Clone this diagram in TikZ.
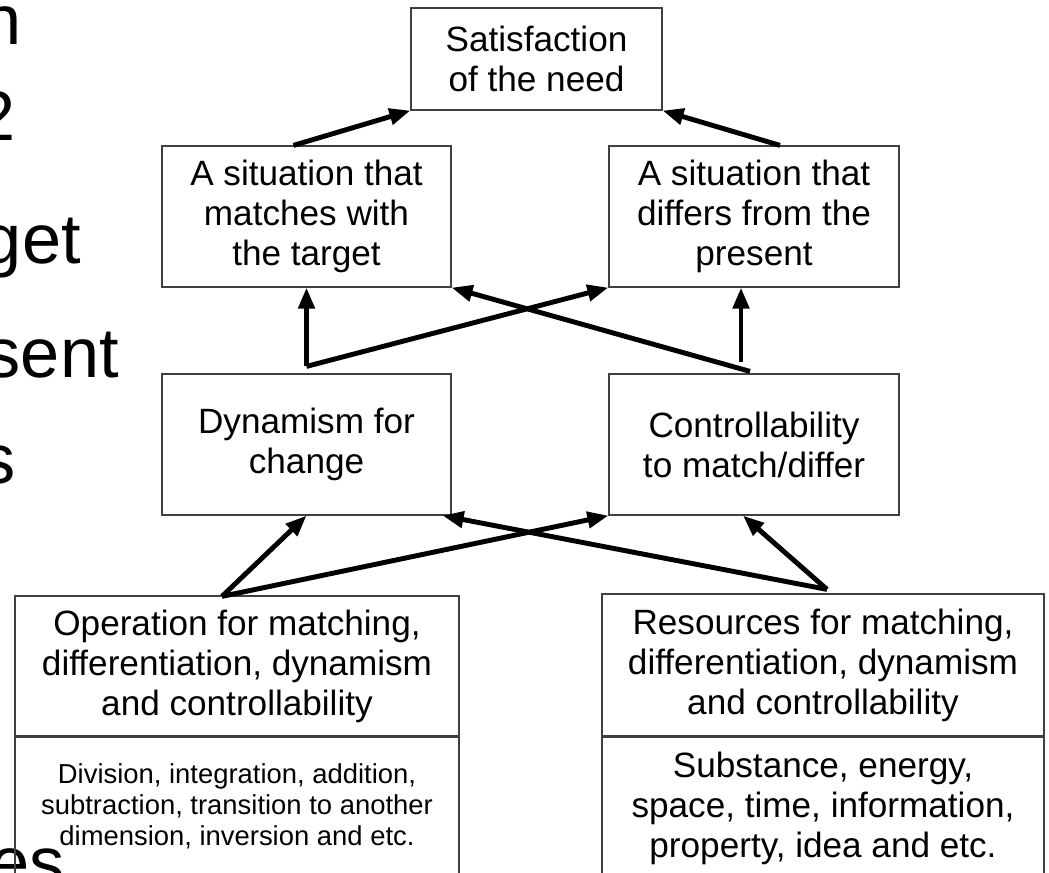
\documentclass[tikz,border=0pt]{standalone}
\usepackage{fontspec}
\setmainfont{Liberation Sans}
\usetikzlibrary{arrows.meta}

\tikzstyle{box}=[draw=black!75, line width=0.7pt, align=center, inner sep=0pt, font=\fontsize{20}{22.8}\selectfont]
\tikzstyle{arrow}=[line width=2.8pt, -{Triangle[length=4.2mm, width=3.2mm]}]
\tikzstyle{slide}=[anchor=base east, inner sep=0pt, font=\fontsize{40}{48}\selectfont]
\tikzstyle{detail}=[anchor=north, inner sep=0pt, align=center]

\begin{document}
\begin{tikzpicture}[x=0.2mm, y=-0.2mm]
      \useasboundingbox (0, 0) rectangle (1049, 873);
      \clip (0, 0) rectangle (1049, 873);

      % slide text behind the chart
      \node[slide] (s1) at (22, 45) {n};
      \node[slide] (s2) at (16, 140) {2};
      \node[slide] (s3) at (81, 263) {get};
      \node[slide] (s4) at (119, 377) {sent};
      \node[slide] (s5) at (16, 483) {s};
      \node[slide] (s6) at (65, 886) {es};

      \node[box, minimum width=5.02cm, minimum height=2.04cm] (need) at (536.5, 59) {Satisfaction\\of the need};
      \node[box, minimum width=5.78cm, minimum height=2.82cm] (match) at (306.5, 216.5) {A situation that\\matches with\\the target};
      \node[box, minimum width=5.8cm, minimum height=2.82cm] (differ) at (754, 216.5) {A situation that\\differs from the\\present};
      \node[box, minimum width=5.78cm, minimum height=2.82cm] (dyn) at (306.5, 444.5) {Dynamism for\\change};
      \node[box, minimum width=5.8cm, minimum height=2.82cm] (ctrl) at (754, 444.5) {Controllability\\to match/differ};
      \node[box, minimum width=8.88cm, minimum height=2.8cm] (oper) at (237, 666) {Operation for matching,\\differentiation, dynamism\\and controllability};
      \node[box, minimum width=8.84cm, minimum height=2.84cm] (res) at (823, 665) {Resources for matching,\\differentiation, dynamism\\and controllability};
      \node[box, minimum width=8.88cm, minimum height=4cm, anchor=north] (operx) at (oper.south) {};
      \node[box, minimum width=8.84cm, minimum height=4cm, anchor=north] (resx) at (res.south) {};
      \node[detail, font=\fontsize{15.6}{17.6}\selectfont] (operdet) at (237, 763) {Division, integration, addition,\\subtraction, transition to another\\dimension, inversion and etc.};
      \node[detail, font=\fontsize{20}{22.8}\selectfont] (resdet) at (823, 752) {Substance, energy,\\space, time, information,\\property, idea and etc.};

      \draw[arrow] ([shift={(-13,0)}]match.north) to (need.south west);
      \draw[arrow] ([shift={(26,0)}]differ.north) to (need.south east);
      \draw[arrow] ([shift={(0,-7)}]dyn.north) to (match.south);
      \draw[arrow] ([shift={(0,-7)}]dyn.north) to (differ.south west);
      \draw[arrow] ([shift={(-4,-2)}]ctrl.north) to (match.south east);
      \draw[arrow] ([shift={(-13,-11)}]ctrl.north) to ([shift={(-13,0)}]differ.south);
      \draw[arrow] ([shift={(-15,1)}]oper.north) to (dyn.south);
      \draw[arrow] ([shift={(-15,1)}]oper.north) to (ctrl.south west);
      \draw[arrow] ([shift={(4,-4)}]res.north) to ([shift={(-9,0)}]dyn.south east);
      \draw[arrow] ([shift={(4,-4)}]res.north) to ([shift={(-11,0)}]ctrl.south);
    \end{tikzpicture}
\end{document}
